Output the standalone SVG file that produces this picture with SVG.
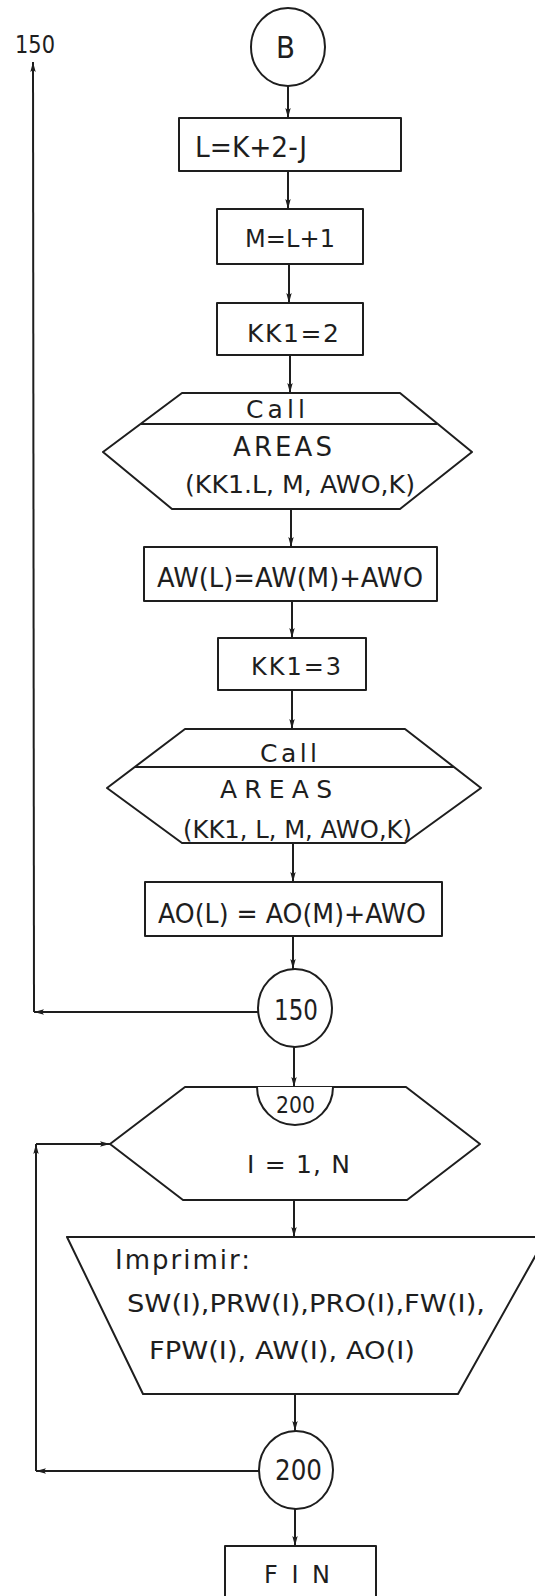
<svg xmlns="http://www.w3.org/2000/svg" width="535" height="1596" viewBox="0 0 535 1596">
<style>
.s{fill:#fff;stroke:#1e1e1e;stroke-width:2;stroke-linejoin:round}
.c line,.c path{stroke:#1e1e1e;stroke-width:2;fill:none}
text{font-family:"DejaVu Sans","Liberation Sans",Arial,sans-serif;fill:#1e1e1e}
</style>
<defs>
<marker id="a" markerUnits="userSpaceOnUse" markerWidth="11" markerHeight="7" refX="10" refY="3.5" orient="auto">
<path d="M0,0.8 L10,3.5 L0,6.2 L2,3.5 z" fill="#1e1e1e"/>
</marker>
</defs>
<g class="c" id="connectors">
<line x1="288" y1="86" x2="288" y2="118" marker-end="url(#a)"/>
<line x1="288" y1="171" x2="288" y2="209" marker-end="url(#a)"/>
<line x1="289" y1="264" x2="289" y2="303" marker-end="url(#a)"/>
<line x1="290" y1="355" x2="290" y2="393" marker-end="url(#a)"/>
<line x1="291" y1="509" x2="291" y2="547" marker-end="url(#a)"/>
<line x1="292" y1="601" x2="292" y2="638" marker-end="url(#a)"/>
<line x1="292" y1="690" x2="292" y2="729" marker-end="url(#a)"/>
<line x1="293" y1="843" x2="293" y2="882" marker-end="url(#a)"/>
<line x1="293" y1="936" x2="293" y2="969" marker-end="url(#a)"/>
<line x1="294" y1="1047" x2="294" y2="1087" marker-end="url(#a)"/>
<line x1="294" y1="1200" x2="294" y2="1237" marker-end="url(#a)"/>
<line x1="295" y1="1394" x2="295" y2="1431" marker-end="url(#a)"/>
<line x1="295" y1="1509" x2="295" y2="1546" marker-end="url(#a)"/>
<line x1="258" y1="1012" x2="34" y2="1012" marker-end="url(#a)"/>
<line x1="34" y1="1012" x2="33" y2="62" marker-end="url(#a)"/>
<line x1="259" y1="1471" x2="36" y2="1471" marker-end="url(#a)"/>
<line x1="36" y1="1471" x2="36" y2="1144" marker-end="url(#a)"/>
<line x1="36" y1="1144" x2="110" y2="1144" marker-end="url(#a)"/>
</g>
<g id="label150"><text x="15" y="53" font-size="25" textLength="40" lengthAdjust="spacingAndGlyphs">150</text></g>
<g id="nB"><ellipse class="s" cx="288" cy="47" rx="37" ry="39"/><text x="276" y="58" font-size="31" textLength="19" lengthAdjust="spacingAndGlyphs">B</text></g>
<g id="n1"><rect class="s" x="179" y="118" width="222" height="53"/><text x="195" y="157" font-size="28" textLength="112" lengthAdjust="spacingAndGlyphs">L=K+2-J</text></g>
<g id="n2"><rect class="s" x="217" y="209" width="146" height="55"/><text x="245" y="247" font-size="24" textLength="90">M=L+1</text></g>
<g id="n3"><rect class="s" x="217" y="303" width="146" height="52"/><text x="247" y="342" font-size="25" textLength="92">KK1=2</text></g>
<g id="n4"><path class="s" d="M182,393 L400,393 L472,452 L400,509 L172,509 L103,452 Z"/><line class="s" x1="141" y1="424" x2="437" y2="424"/>
<text x="246" y="418" font-size="25" textLength="59">Call</text>
<text x="233" y="456" font-size="26" textLength="99">AREAS</text>
<text x="185" y="493" font-size="25" textLength="230" lengthAdjust="spacingAndGlyphs">(KK1.L, M, AWO,K)</text></g>
<g id="n5"><rect class="s" x="144" y="547" width="293" height="54"/><text x="157" y="587" font-size="27" textLength="266" lengthAdjust="spacingAndGlyphs">AW(L)=AW(M)+AWO</text></g>
<g id="n6"><rect class="s" x="218" y="638" width="148" height="52"/><text x="251" y="675" font-size="24" textLength="90">KK1=3</text></g>
<g id="n7"><path class="s" d="M185,729 L405,729 L481,788 L405,843 L182,843 L107,788 Z"/><line class="s" x1="135" y1="767" x2="454" y2="767"/>
<text x="260" y="762" font-size="25" textLength="57">Call</text>
<text x="220" y="798" font-size="25" textLength="112">AREAS</text>
<text x="183" y="838" font-size="25" textLength="229" lengthAdjust="spacingAndGlyphs">(KK1, L, M, AWO,K)</text></g>
<g id="n8"><rect class="s" x="145" y="882" width="297" height="54"/><text x="158" y="923" font-size="27" textLength="268" lengthAdjust="spacingAndGlyphs">AO(L) = AO(M)+AWO</text></g>
<g id="n9"><ellipse class="s" cx="295" cy="1008" rx="37" ry="39"/><text x="274" y="1020" font-size="29" textLength="44" lengthAdjust="spacingAndGlyphs">150</text></g>
<g id="n10"><path class="s" d="M185,1087 L406,1087 L480,1144 L407,1200 L183,1200 L110,1144 Z"/><path class="s" d="M257,1087 A38,38 0 0 0 333,1087"/>
<text x="276" y="1113" font-size="23" textLength="39" lengthAdjust="spacingAndGlyphs">200</text>
<text x="247" y="1173" font-size="25" textLength="103">I = 1, N</text></g>
<g id="n11"><path class="s" d="M67,1237 L546,1237 L458,1394 L143,1394 Z"/>
<text x="115" y="1269" font-size="26" textLength="135">Imprimir:</text>
<text x="127" y="1312" font-size="25" textLength="358" lengthAdjust="spacingAndGlyphs">SW(I),PRW(I),PRO(I),FW(I),</text>
<text x="149" y="1359" font-size="25" textLength="266" lengthAdjust="spacingAndGlyphs">FPW(I), AW(I), AO(I)</text></g>
<g id="n12"><ellipse class="s" cx="296" cy="1470" rx="37" ry="39"/><text x="275" y="1480" font-size="29" textLength="47" lengthAdjust="spacingAndGlyphs">200</text></g>
<g id="n13"><rect class="s" x="225" y="1546" width="151" height="56"/><text x="264" y="1583" font-size="24" textLength="66">FIN</text></g>
</svg>
